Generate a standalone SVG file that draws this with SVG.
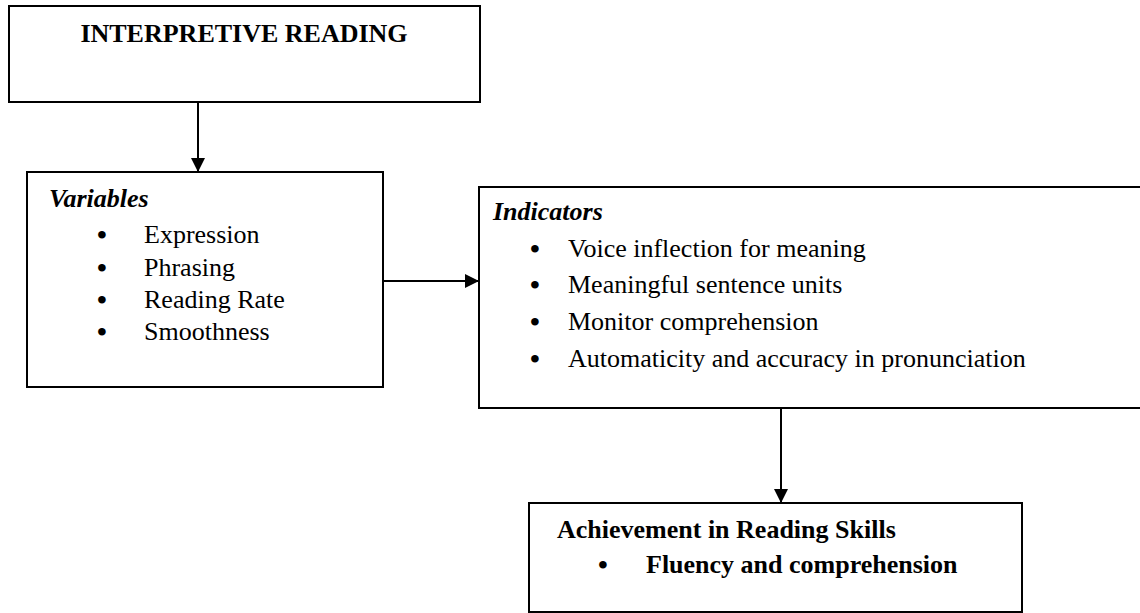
<svg xmlns="http://www.w3.org/2000/svg" width="1140" height="613" viewBox="0 0 1140 613">
<defs>
<style>
.box{fill:#fff;stroke:#000;stroke-width:2}
.t{font-family:"Liberation Serif","Times New Roman",serif;font-size:26px;fill:#000}
.b{font-weight:bold}
.bi{font-weight:bold;font-style:italic}
.bul{font-family:"Liberation Serif","Times New Roman",serif;font-size:28px;font-weight:bold;fill:#000}
.conn{stroke:#000;stroke-width:2;fill:none}
</style>
<marker id="ah" viewBox="0 0 10 10" refX="10" refY="5" markerWidth="7" markerHeight="7" markerUnits="strokeWidth" orient="auto">
<path d="M0,0 L10,5 L0,10 z" fill="#000"/>
</marker>
</defs>
<rect width="1140" height="613" fill="#fff"/>
<g id="connectors">
<line class="conn" x1="198" y1="102" x2="198" y2="172" marker-end="url(#ah)"/>
<line class="conn" x1="383" y1="281" x2="479" y2="281" marker-end="url(#ah)"/>
<line class="conn" x1="781" y1="408" x2="781" y2="503" marker-end="url(#ah)"/>
</g>
<g id="interpretive-reading">
<rect class="box" x="9" y="6" width="471" height="96"/>
<text class="t b" x="244" y="42" text-anchor="middle">INTERPRETIVE READING</text>
</g>
<g id="variables">
<rect class="box" x="27" y="172" width="356" height="215"/>
<text class="t bi" x="49" y="207">Variables</text>
<text class="bul" x="97" y="244">•</text><text class="t" x="144" y="243">Expression</text>
<text class="bul" x="97" y="277">•</text><text class="t" x="144" y="276">Phrasing</text>
<text class="bul" x="97" y="309">•</text><text class="t" x="144" y="308">Reading Rate</text>
<text class="bul" x="97" y="341">•</text><text class="t" x="144" y="340">Smoothness</text>
</g>
<g id="indicators">
<rect class="box" x="479" y="187" width="670" height="221"/>
<text class="t bi" x="493" y="220">Indicators</text>
<text class="bul" x="530" y="258">•</text><text class="t" x="568" y="257">Voice inflection for meaning</text>
<text class="bul" x="530" y="294">•</text><text class="t" x="568" y="293">Meaningful sentence units</text>
<text class="bul" x="530" y="331">•</text><text class="t" x="568" y="330">Monitor comprehension</text>
<text class="bul" x="530" y="368">•</text><text class="t" x="568" y="367">Automaticity and accuracy in pronunciation</text>
</g>
<g id="achievement">
<rect class="box" x="529" y="503" width="493" height="109"/>
<text class="t b" x="557" y="538">Achievement in Reading Skills</text>
<text class="bul" x="598" y="574">•</text><text class="t b" x="646" y="573">Fluency and comprehension</text>
</g>
</svg>
